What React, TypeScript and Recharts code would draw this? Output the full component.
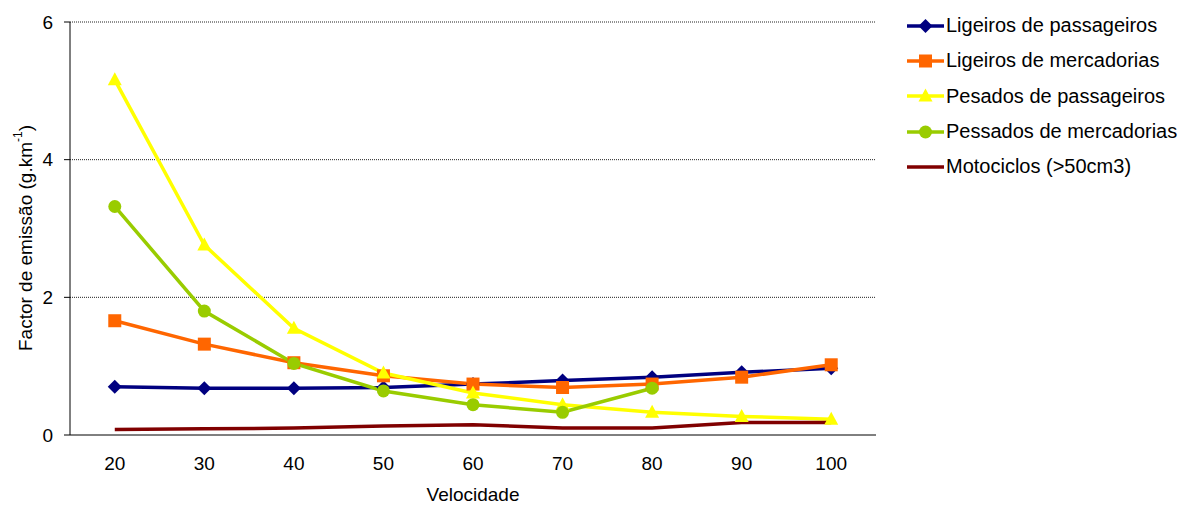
import React from 'react'
import { LineChart, Line, XAxis, YAxis, CartesianGrid, Label } from 'recharts'

// Emission factor (g/km) by speed class, per vehicle category
const speeds = [20, 30, 40, 50, 60, 70, 80, 90, 100]
const ligeirosPassageiros = [0.7, 0.68, 0.68, 0.69, 0.74, 0.79, 0.84, 0.91, 0.97]
const ligeirosMercadorias = [1.66, 1.32, 1.05, 0.86, 0.74, 0.69, 0.74, 0.84, 1.02]
const pesadosPassageiros = [5.16, 2.76, 1.55, 0.9, 0.61, 0.44, 0.33, 0.27, 0.23]
const pesadosMercadorias = [3.32, 1.8, 1.04, 0.64, 0.44, 0.33, 0.68, null, null]
const motociclos = [0.08, 0.09, 0.1, 0.13, 0.15, 0.1, 0.1, 0.18, 0.18]

const yTicks = [0, 2, 4, 6]
const bandEdges = [15, 25, 35, 45, 55, 65, 75, 85, 95, 105]

const FONT = '"Liberation Sans", Arial, sans-serif'

const data = speeds.map((v, i) => ({
  v,
  lp: ligeirosPassageiros[i],
  lm: ligeirosMercadorias[i],
  pp: pesadosPassageiros[i],
  pm: pesadosMercadorias[i],
  mo: motociclos[i],
}))

type MarkerKind = 'diamond' | 'square' | 'triangle' | 'circle' | 'none'

const markerShape = (kind: MarkerKind, cx: number, cy: number, color: string) => {
  switch (kind) {
    case 'diamond':
      return <path d={`M${cx} ${cy - 7}L${cx + 7} ${cy}L${cx} ${cy + 7}L${cx - 7} ${cy}Z`} fill={color} />
    case 'square':
      return <rect x={cx - 6.5} y={cy - 6.5} width={13} height={13} fill={color} />
    case 'triangle':
      return <path d={`M${cx} ${cy - 7.5}L${cx + 7} ${cy + 5.5}L${cx - 7} ${cy + 5.5}Z`} fill={color} />
    case 'circle':
      return <circle cx={cx} cy={cy} r={6.5} fill={color} />
    default:
      return null
  }
}

const series: { key: string; name: string; color: string; marker: MarkerKind }[] = [
  { key: 'lp', name: 'Ligeiros de passageiros', color: '#000080', marker: 'diamond' },
  { key: 'lm', name: 'Ligeiros de mercadorias', color: '#FF6600', marker: 'square' },
  { key: 'pp', name: 'Pesados de passageiros', color: '#FFFF00', marker: 'triangle' },
  { key: 'pm', name: 'Pessados de mercadorias', color: '#99CC00', marker: 'circle' },
  { key: 'mo', name: 'Motociclos (>50cm3)', color: '#800000', marker: 'none' },
]

const makeDot = (kind: MarkerKind, color: string) => (props: any) => {
  const { cx, cy, index, value } = props
  if (cx == null || cy == null || value == null) return <g key={`d-${index}`} />
  return <g key={`d-${index}`}>{markerShape(kind, cx, cy, color)}</g>
}

const YTitle = () => (
  <text
    x={25}
    y={238}
    transform="rotate(-90, 25, 238)"
    textAnchor="middle"
    dominantBaseline="central"
    fontSize={19}
    fontFamily={FONT}
    fill="#000"
  >
    Factor de emissão (g.km
    <tspan baselineShift="super" fontSize={12}>-1</tspan>
    <tspan>)</tspan>
  </text>
)

const ChartLegend = () => (
  <div style={{ position: 'absolute', left: 907, top: 8, fontFamily: FONT, fontSize: 20, color: '#000' }}>
    {series.map((s) => (
      <div key={s.key} style={{ display: 'flex', alignItems: 'center', height: 35.3 }}>
        <svg width={37} height={16} style={{ marginRight: 2 }}>
          <line x1={0} y1={8} x2={37} y2={8} stroke={s.color} strokeWidth={3.5} />
          {markerShape(s.marker, 18.5, 8, s.color)}
        </svg>
        <span style={{ whiteSpace: 'nowrap' }}>{s.name}</span>
      </div>
    ))}
  </div>
)

export default function App() {
  return (
    <div style={{ position: 'absolute', left: 0, top: 0, width: 1181, height: 506, background: '#fff' }}>
      <LineChart
        width={1181}
        height={506}
        data={data}
        margin={{ top: 22, right: 305, bottom: 0, left: 0 }}
        style={{ fontFamily: FONT }}
      >
        <CartesianGrid
          horizontal
          vertical={false}
          stroke="#222"
          strokeDasharray="1 1"
          horizontalValues={[2, 4, 6]}
        />
        <XAxis
          dataKey="v"
          type="number"
          domain={[15, 105]}
          ticks={bandEdges}
          interval={0}
          height={13}
          tick={false}
          tickSize={7}
          axisLine={{ stroke: '#000', strokeWidth: 1 }}
          tickLine={{ stroke: '#000', strokeWidth: 1 }}
          allowDataOverflow
        />
        <XAxis
          xAxisId="labels"
          dataKey="v"
          type="number"
          domain={[15, 105]}
          ticks={speeds}
          interval={0}
          height={58}
          axisLine={false}
          tickLine={false}
          tick={{ fill: '#000', fontSize: 19, fontFamily: FONT }}
          tickMargin={3}
        >
          <Label
            value="Velocidade"
            position="insideBottom"
            offset={5}
            style={{ fill: '#000', fontSize: 19, fontFamily: FONT }}
          />
        </XAxis>
        <YAxis
          domain={[0, 6]}
          ticks={yTicks}
          interval={0}
          width={70}
          tickSize={6}
          tickMargin={11}
          axisLine={{ stroke: '#000', strokeWidth: 1 }}
          tickLine={{ stroke: '#000', strokeWidth: 1 }}
          tick={{ fill: '#000', fontSize: 19, fontFamily: FONT }}
        >
          <Label content={<YTitle />} />
        </YAxis>
        {series.map((s) => (
          <Line
            key={s.key}
            dataKey={s.key}
            name={s.name}
            stroke={s.color}
            strokeWidth={3.5}
            type="linear"
            dot={s.marker === 'none' ? false : makeDot(s.marker, s.color)}
            activeDot={false}
            isAnimationActive={false}
          />
        ))}
      </LineChart>
      <ChartLegend />
    </div>
  )
}
